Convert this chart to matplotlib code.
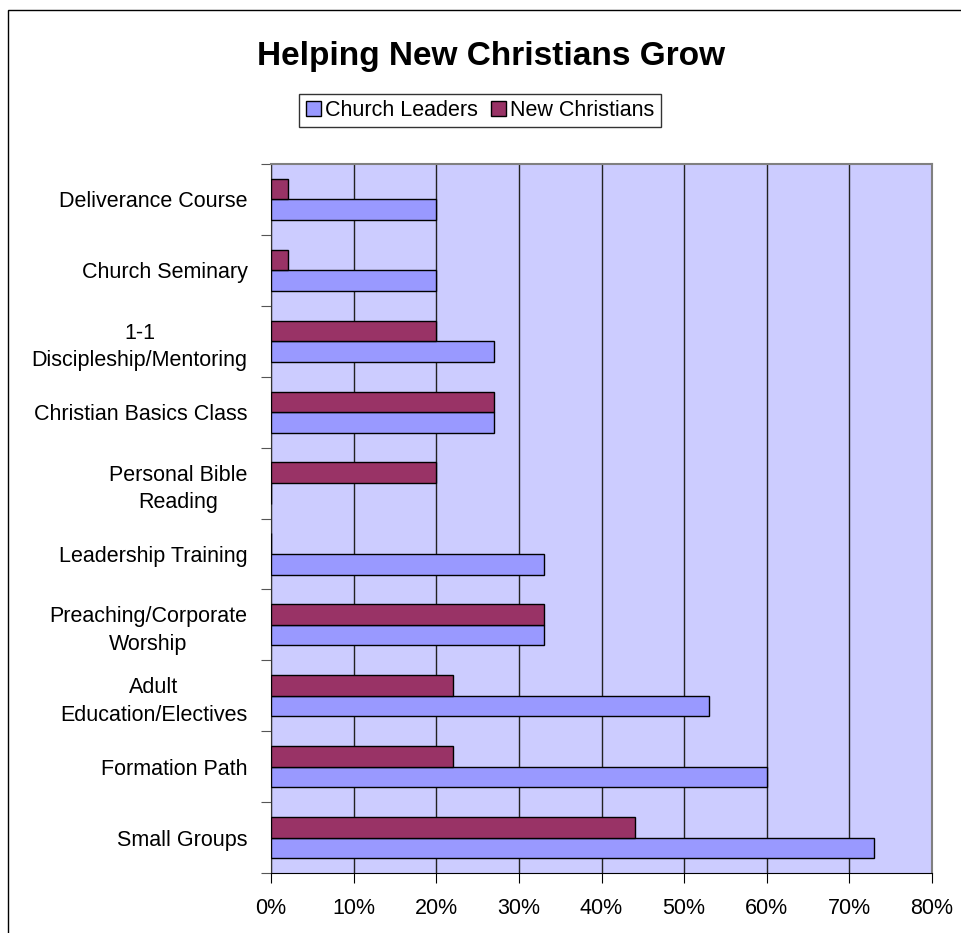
import matplotlib
matplotlib.use('Agg')
import matplotlib.pyplot as plt
import matplotlib.patches as patches
import numpy as np

# data, bottom category first
categories = ['Small Groups', 'Formation Path', 'Adult\nEducation/Electives',
              'Preaching/Corporate\nWorship', 'Leadership Training',
              'Personal Bible\nReading', 'Christian Basics Class',
              '1-1\nDiscipleship/Mentoring', 'Church Seminary', 'Deliverance Course']
church_leaders = [73, 60, 53, 33, 33, 0, 27, 27, 20, 20]
new_christians = [44, 22, 22, 33, 0, 20, 27, 20, 2, 2]
x_ticks = [0, 10, 20, 30, 40, 50, 60, 70, 80]
x_labels = ['0%', '10%', '20%', '30%', '40%', '50%', '60%', '70%', '80%']

plt.rcParams['font.family'] = ['Liberation Sans', 'DejaVu Sans']

fig = plt.figure(figsize=(9.62, 9.33), dpi=100)
ax = fig.add_axes([271/962, 1 - 873/933, (932-271)/962, (873-164)/933])
ax.set_facecolor('#CCCCFF')

y = np.arange(len(categories))
h = 0.29
ax.barh(y - h/2, church_leaders, height=h, color='#9999FF', edgecolor='#000000',
        linewidth=1, label='Church Leaders', zorder=3)
ax.barh(y + h/2, new_christians, height=h, color='#993366', edgecolor='#000000',
        linewidth=1, label='New Christians', zorder=3)

ax.set_xlim(0, 80)
ax.set_ylim(-0.5, len(categories) - 0.5)
ax.set_xticks(x_ticks)
ax.set_xticklabels(x_labels, fontsize=15.5)
ax.xaxis.grid(True, color='#222222', linewidth=1, zorder=1)

# category boundaries as ticks, labels at the centres
ax.set_yticks(np.arange(len(categories) + 1) - 0.5)
ax.set_yticklabels([])
ax.set_yticks(y, minor=True)
ax.set_yticklabels(categories, minor=True, fontsize=15.5, multialignment='center',
                   linespacing=1.4)
ax.tick_params(axis='y', which='minor', length=0, pad=17)
ax.tick_params(axis='y', which='major', length=7, color='#555555', direction='out')
ax.tick_params(axis='x', length=7, direction='out', pad=11)

for s in ['top', 'right']:
    ax.spines[s].set_color('#808080')
    ax.spines[s].set_linewidth(1.5)
ax.spines['left'].set_color('#333333')
ax.spines['bottom'].set_color('#000000')

fig.text(491/962, 1 - 57/933, 'Helping New Christians Grow', fontsize=24,
         fontweight='bold', ha='center', va='center')

leg = fig.legend(loc='center', bbox_to_anchor=(480/962, 1 - 110.5/933), ncol=2,
                 fontsize=15.5, frameon=True, fancybox=False, edgecolor='#000000',
                 handlelength=0.7, handleheight=0.7, handletextpad=0.2,
                 columnspacing=0.6, borderpad=0.3, borderaxespad=0)
leg.get_frame().set_linewidth(1)

# outer chart border
fig.patches.append(patches.Rectangle((8/962, -0.1), 1.2, 1.1 - 10/933, fill=False,
                                     edgecolor='#000000', linewidth=1,
                                     transform=fig.transFigure, figure=fig))

fig.savefig('out.png', dpi=100)
